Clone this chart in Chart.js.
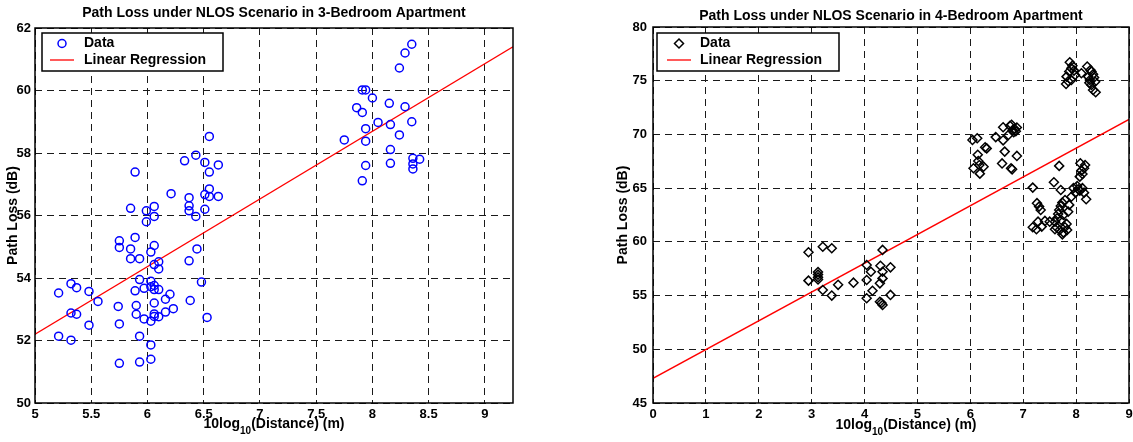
<!DOCTYPE html>
<html>
<head>
<meta charset="utf-8">
<script src="https://cdn.jsdelivr.net/npm/chart.js@4.4.1/dist/chart.umd.min.js"></script>
<style>
  html, body { margin: 0; padding: 0; background: #fff; overflow: hidden; }
  #wrap { position: relative; width: 1133px; height: 442px; }
  canvas { position: absolute; top: 0; }
  #left { left: 0; }
  #right { left: 590px; }
</style>
</head>
<body>
<div id="wrap">
  <canvas id="left" width="560" height="442"></canvas>
  <canvas id="right" width="548" height="442"></canvas>
</div>
<script>
// --- 3-bedroom apartment (left) ---
const ticks3X = [5, 5.5, 6, 6.5, 7, 7.5, 8, 8.5, 9];
const ticks3Y = [50, 52, 54, 56, 58, 60, 62];
const data3X = [
  8.35, 8.29, 8.24, 7.91, 7.94, 8.00, 8.15, 7.86, 8.29, 7.91, 8.05, 8.16, 8.35, 7.94, 8.24, 7.75, 7.94, 8.16, 8.36, 8.42, 8.36, 8.36, 8.16, 7.94, 7.91,
  6.55, 6.33, 6.43, 6.51, 6.63, 6.55, 5.89, 6.55, 6.21, 6.51, 6.55, 6.63, 6.37, 6.37, 6.37, 5.85, 5.99, 6.06, 6.06, 6.43, 6.51, 5.99,
  5.89, 5.75, 5.75, 6.06, 5.85, 6.03, 6.44, 5.85, 5.93, 6.37, 6.10, 6.06, 6.10, 5.93, 6.03, 6.48, 6.03, 6.06, 6.10, 6.06, 5.97, 5.89,
  6.20, 6.16, 6.38, 6.06, 5.90, 5.74, 6.23, 6.16, 6.06, 6.06, 6.10, 5.90, 5.97, 6.03, 6.53, 5.48, 5.75, 5.21, 5.32, 5.37, 5.48, 5.56,
  5.32, 5.37, 5.21, 5.32, 5.93, 6.03, 6.03, 5.93, 5.75
];
const data3Y = [
  61.48, 61.20, 60.72, 60.02, 60.02, 59.76, 59.59, 59.45, 59.48, 59.30, 58.98, 58.91, 59.00, 58.78, 58.58, 58.42, 58.38, 58.11, 57.83, 57.80, 57.65, 57.49, 57.67, 57.60, 57.11,
  58.53, 57.75, 57.93, 57.70, 57.62, 57.39, 57.39, 56.85, 56.70, 56.67, 56.61, 56.61, 56.57, 56.31, 56.15, 56.23, 56.15, 56.29, 55.97, 55.97, 56.20, 55.80,
  55.30, 55.19, 54.98, 55.04, 54.93, 54.83, 54.93, 54.62, 54.62, 54.55, 54.52, 54.43, 54.29, 53.95, 53.90, 53.87, 53.72, 53.76, 53.63, 53.63, 53.67, 53.59,
  53.48, 53.32, 53.28, 53.20, 53.12, 53.09, 53.02, 52.91, 52.85, 52.77, 52.76, 52.84, 52.69, 52.62, 52.74, 52.49, 52.53, 53.52, 53.82, 53.69, 53.57, 53.25,
  52.88, 52.84, 52.14, 52.01, 52.14, 51.86, 51.40, 51.31, 51.27
];
const fit3X = [5, 9.25];
const fit3Y = [52.2, 61.4];

// --- 4-bedroom apartment (right) ---
const ticks4X = [0, 1, 2, 3, 4, 5, 6, 7, 8, 9];
const ticks4Y = [45, 50, 55, 60, 65, 70, 75, 80];
const data4X = [
  2.94, 3.21, 3.38, 2.94, 3.12, 3.12, 3.12, 3.12, 3.21, 3.38, 3.50, 3.79, 4.34, 4.04, 4.30, 4.49, 4.12, 4.34, 4.04, 4.15, 4.29, 4.34, 4.04, 4.29, 4.34, 4.49, 4.32,
  6.04, 6.13, 6.31, 6.28, 6.14, 6.15, 6.06, 6.17, 6.25, 6.18, 6.48, 6.62, 6.62, 6.75, 6.72, 6.80, 6.84, 6.88, 6.82, 6.86, 6.78, 6.65, 6.88, 6.60, 6.77, 6.79,
  7.88, 7.91, 7.87, 7.96, 7.98, 7.82, 7.91, 7.85, 7.81, 7.93, 8.10, 8.21, 8.29, 8.23, 8.32, 8.26, 8.36, 8.29, 8.32, 8.37, 8.25, 8.27, 8.34,
  7.68, 7.18, 7.58, 7.71, 8.08, 8.17, 8.10, 8.12, 8.07, 8.15, 8.02, 8.07, 8.15, 8.19, 7.99, 7.91, 7.26, 7.30, 7.33, 7.74, 7.71, 7.68, 7.66, 7.76,
  7.64, 7.72, 7.82, 7.79, 7.60, 7.50, 7.41, 7.28, 7.18, 7.25, 7.35, 7.63, 7.69, 7.76, 7.74, 7.83, 7.60, 7.87, 7.79, 7.85, 8.04, 7.95, 8.12
];
const data4Y = [
  59.03, 59.55, 59.40, 56.39, 57.20, 56.95, 56.70, 56.50, 55.52, 55.00, 56.00, 56.20, 59.25, 57.85, 57.78, 57.63, 57.22, 57.22, 56.45, 55.45, 56.14, 56.60, 54.75, 54.43, 54.12, 55.06, 54.30,
  69.49, 69.65, 68.70, 68.80, 68.10, 67.53, 66.85, 67.16, 67.00, 66.35, 69.75, 69.45, 70.67, 70.80, 69.95, 70.40, 70.50, 70.65, 70.20, 70.30, 70.90, 68.40, 68.00, 67.30, 66.85, 66.75,
  76.72, 76.16, 75.85, 75.94, 75.54, 75.38, 75.07, 74.95, 74.70, 76.40, 75.70, 76.32, 75.85, 75.38, 75.60, 75.07, 74.90, 74.60, 74.14, 73.93, 74.80, 76.00, 75.30,
  67.07, 65.05, 65.55, 64.83, 67.32, 67.16, 66.63, 66.32, 66.07, 66.85, 65.20, 64.77, 64.58, 63.97, 64.58, 64.20, 63.60, 63.28, 62.97, 63.65, 63.34, 62.97, 62.60, 62.50,
  62.19, 62.04, 61.67, 61.36, 61.88, 61.88, 61.95, 61.88, 61.36, 61.17, 61.42, 61.36, 61.10, 60.86, 60.70, 61.10, 61.17, 63.44, 63.90, 62.81, 64.90, 65.00, 65.00
];
const fit4X = [0, 9];
const fit4Y = [47.3, 71.4];

const FONT = "'Liberation Sans', Arial, Helvetica, sans-serif";

const pts = (xs, ys) => xs.map((x, i) => ({ x: x, y: ys[i] }));

function drawMarker(ctx, kind, x, y) {
  ctx.beginPath();
  if (kind === 'circle') {
    ctx.strokeStyle = '#0000ff';
    ctx.lineWidth = 1.5;
    ctx.arc(x, y, 4, 0, Math.PI * 2);
  } else {
    ctx.strokeStyle = '#000';
    ctx.lineWidth = 1.5;
    ctx.moveTo(x, y - 4.5); ctx.lineTo(x + 4.5, y); ctx.lineTo(x, y + 4.5); ctx.lineTo(x - 4.5, y); ctx.closePath();
  }
  ctx.stroke();
}

// frame, titles, axis labels, legend
function decor(cfg) {
  return {
    id: 'decor',
    afterDraw(chart) {
      const ctx = chart.ctx, a = chart.chartArea;
      ctx.save();
      ctx.setLineDash([]);
      ctx.fillStyle = '#000';

      // title
      ctx.font = 'bold 14px ' + FONT;
      ctx.textAlign = 'center';
      ctx.textBaseline = 'middle';
      ctx.fillText(cfg.title, (a.left + a.right) / 2, cfg.titleY);

      // y label
      ctx.save();
      ctx.translate(cfg.yLabelX, (a.top + a.bottom) / 2);
      ctx.rotate(-Math.PI / 2);
      ctx.fillText('Path Loss (dB)', 0, 0);
      ctx.restore();

      // x label with subscript
      const p1 = '10log', p2 = '10', p3 = '(Distance) (m)';
      ctx.font = 'bold 14px ' + FONT;
      const w1 = ctx.measureText(p1).width, w3 = ctx.measureText(p3).width;
      ctx.font = 'bold 10px ' + FONT;
      const w2 = ctx.measureText(p2).width;
      let x0 = cfg.xLabelX - (w1 + w2 + w3) / 2;
      ctx.textAlign = 'left';
      ctx.font = 'bold 14px ' + FONT;
      ctx.fillText(p1, x0, cfg.xLabelY);
      ctx.font = 'bold 10px ' + FONT;
      ctx.fillText(p2, x0 + w1, cfg.xLabelY + 7);
      ctx.font = 'bold 14px ' + FONT;
      ctx.fillText(p3, x0 + w1 + w2, cfg.xLabelY);

      // frame
      ctx.strokeStyle = '#000';
      ctx.lineWidth = 1.5;
      ctx.strokeRect(a.left, a.top, a.right - a.left, a.bottom - a.top);

      // legend
      const L = cfg.legend;
      ctx.fillStyle = '#fff';
      ctx.fillRect(L.x, L.y, L.w, L.h);
      ctx.lineWidth = 1.5;
      ctx.strokeRect(L.x, L.y, L.w, L.h);
      drawMarker(ctx, cfg.marker, L.mx, L.y + 10.5);
      ctx.beginPath();
      ctx.strokeStyle = '#ff0000';
      ctx.lineWidth = 1.3;
      ctx.moveTo(L.mx - 12, L.y + 27);
      ctx.lineTo(L.mx + 12, L.y + 27);
      ctx.stroke();
      ctx.fillStyle = '#000';
      ctx.font = 'bold 14px ' + FONT;
      ctx.textAlign = 'left';
      ctx.fillText('Data', L.tx, L.y + 10.5);
      ctx.fillText('Linear Regression', L.tx, L.y + 27);
      ctx.restore();
    }
  };
}

function makeChart(id, o) {
  const axis = (min, max, ticks, extra) => Object.assign({
    type: 'linear',
    min: min,
    max: max,
    bounds: 'data',
    afterBuildTicks: s => { s.ticks = ticks.map(v => ({ value: v })); },
    grid: { color: '#1a1a1a', lineWidth: 1, drawTicks: false },
    border: { display: false, dash: [7, 5] },
    ticks: {
      color: '#000',
      font: { family: FONT, size: 13, weight: 'bold' },
      callback: v => String(v),
      maxRotation: 0,
      autoSkip: false
    }
  }, extra);

  const xs = axis(o.xMin, o.xMax, o.xTicks, { afterFit: s => { s.height = 39; } });
  xs.ticks.padding = 4;
  const ys = axis(o.yMin, o.yMax, o.yTicks, { afterFit: s => { s.width = o.yWidth; } });
  ys.ticks.padding = o.yPad;

  return new Chart(document.getElementById(id), {
    type: 'scatter',
    data: {
      datasets: [
        {
          label: 'Data',
          data: pts(o.dx, o.dy),
          pointStyle: o.marker === 'circle' ? 'circle' : 'rectRot',
          pointRadius: o.marker === 'circle' ? 4 : 4.5,
          borderWidth: 1.5,
          borderColor: o.marker === 'circle' ? '#0000ff' : '#000',
          backgroundColor: 'rgba(0,0,0,0)'
        },
        {
          label: 'Linear Regression',
          data: pts(o.fx, o.fy),
          showLine: true,
          pointRadius: 0,
          borderColor: '#ff0000',
          borderWidth: 1.4
        }
      ]
    },
    options: {
      responsive: false,
      animation: false,
      devicePixelRatio: 1,
      layout: { padding: { top: o.top, right: o.right, left: 0, bottom: 0 } },
      scales: { x: xs, y: ys },
      plugins: { legend: { display: false }, tooltip: { enabled: false } }
    },
    plugins: [decor(o.decor)]
  });
}

makeChart('left', {
  xMin: 5, xMax: 9.25, xTicks: ticks3X,
  yMin: 50, yMax: 62, yTicks: ticks3Y,
  yWidth: 35, yPad: 4, top: 28, right: 47,
  dx: data3X, dy: data3Y, fx: fit3X, fy: fit3Y,
  marker: 'circle',
  decor: {
    title: 'Path Loss under NLOS Scenario in 3-Bedroom Apartment', titleY: 13,
    yLabelX: 13, xLabelX: 274, xLabelY: 424,
    marker: 'circle',
    legend: { x: 42, y: 33, w: 181, h: 38, mx: 62, tx: 84 }
  }
});

makeChart('right', {
  xMin: 0, xMax: 9, xTicks: ticks4X,
  yMin: 45, yMax: 80, yTicks: ticks4Y,
  yWidth: 63, yPad: 6, top: 27, right: 9,
  dx: data4X, dy: data4Y, fx: fit4X, fy: fit4Y,
  marker: 'diamond',
  decor: {
    title: 'Path Loss under NLOS Scenario in 4-Bedroom Apartment', titleY: 16,
    yLabelX: 33, xLabelX: 316, xLabelY: 425,
    marker: 'diamond',
    legend: { x: 67, y: 33, w: 182, h: 38, mx: 89, tx: 110 }
  }
});
</script>
</body>
</html>
